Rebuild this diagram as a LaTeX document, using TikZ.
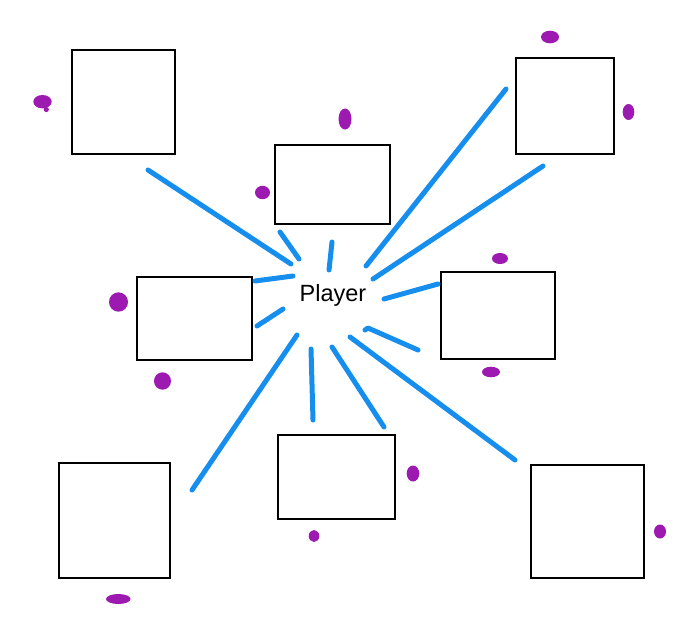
\documentclass[tikz,border=0pt]{standalone}
\usepackage{fontspec}
\setmainfont{Liberation Sans}
\begin{document}
\begin{tikzpicture}[x=1pt,y=-1pt,
  box/.style={draw=black,line width=1.4pt,fill=white},
  ray/.style={draw={rgb,255:red,22;green,142;blue,238},line width=5pt,line cap=round,line join=round},
  blob/.style={fill={rgb,255:red,156;green,26;blue,176}}]
\useasboundingbox[fill=white] (0,0) rectangle (700,634);
% boxes
\draw[box] (72,50) rectangle (175,154);
\draw[box] (275,145) rectangle (390,224);
\draw[box] (516,58) rectangle (614,154);
\draw[box] (137,277) rectangle (252,360);
\draw[box] (441,272) rectangle (555,359);
\draw[box] (59,463) rectangle (170,578);
\draw[box] (278,435) rectangle (395,519);
\draw[box] (531,465) rectangle (644,578);
% player
\node[font=\fontsize{23.5}{28}\selectfont,inner sep=0pt,anchor=base] (player) at (333,301.5) {Player};
% rays
\draw[ray] (148,170) -- (291,264);
\draw[ray] (280,232) -- (299,259);
\draw[ray] (332,242) -- (329,270);
\draw[ray] (506,89) -- (366,266);
\draw[ray] (543,166) -- (373,279);
\draw[ray] (255,281) -- (293,276);
\draw[ray] (384,299) -- (438,284);
\draw[ray] (257,326) -- (283,309);
\draw[ray] (297,335) -- (192,490);
\draw[ray] (311,349) -- (313,420);
\draw[ray] (332,347) -- (384,427);
\draw[ray] (350,337) -- (515,460);
\draw[ray] (365,330) -- (368,328) -- (418,350);
% blobs
\fill[blob] (42.5,101.7) ellipse [x radius=9.2,y radius=6.7];
\fill[blob] (46.3,109.5) circle [radius=2.6];
\fill[blob] (550,37) ellipse [x radius=9,y radius=6.3];
\fill[blob] (628.5,112) ellipse [x radius=5.8,y radius=8];
\fill[blob] (345,119) ellipse [x radius=6.5,y radius=10.5];
\fill[blob] (262.5,192.5) ellipse [x radius=7.5,y radius=6.7];
\fill[blob] (118.5,302) ellipse [x radius=9.5,y radius=9.7];
\fill[blob] (162.5,381) ellipse [x radius=8.5,y radius=8.7];
\fill[blob] (500,258.5) ellipse [x radius=8,y radius=5.5];
\fill[blob] (491,372) ellipse [x radius=9,y radius=5.3];
\fill[blob] (413,473.5) ellipse [x radius=6.3,y radius=8];
\fill[blob] (314,536) ellipse [x radius=5.3,y radius=6];
\fill[blob] (118.3,599) ellipse [x radius=12.3,y radius=5];
\fill[blob] (660,531.5) ellipse [x radius=6,y radius=7];
\end{tikzpicture}
\end{document}
